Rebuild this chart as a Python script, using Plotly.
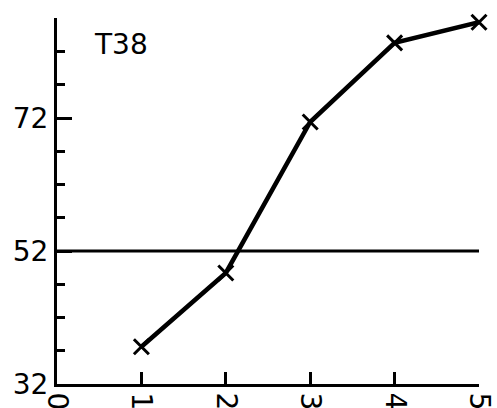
import plotly.graph_objects as go

# Series T38
x_vals = [1, 2, 3, 4, 5]
y_vals = [37.6, 48.7, 71.4, 83.3, 86.4]

# Reference level
ref_x = [0, 5]
ref_y = [52, 52]

y_tick_vals = [32, 52, 72]
y_tick_text = ["32", "52", "72"]
x_tick_vals = [0, 1, 2, 3, 4, 5]
x_tick_text = ["0", "1", "2", "3", "4", "5"]

FONT = "DejaVu Sans"

fig = go.Figure()

fig.add_trace(go.Scatter(
    x=ref_x, y=ref_y, mode="lines",
    line=dict(color="black", width=3),
    hoverinfo="skip", showlegend=False, cliponaxis=False,
))

fig.add_trace(go.Scatter(
    x=x_vals, y=y_vals, mode="lines+markers",
    line=dict(color="black", width=4.5),
    marker=dict(symbol="x-thin", size=15, line=dict(color="black", width=3)),
    showlegend=False, cliponaxis=False,
))

fig.add_annotation(
    x=0.76, y=83.0, xref="x", yref="y", text="T38", showarrow=False,
    font=dict(family=FONT, size=28, color="black"),
    xanchor="center", yanchor="middle",
)

fig.update_layout(
    width=497, height=408,
    margin=dict(l=57, r=17.5, t=18, b=24, pad=0),
    paper_bgcolor="white", plot_bgcolor="white",
    font=dict(family=FONT, size=28, color="black"),
    showlegend=False,
)

fig.update_xaxes(
    range=[0, 5], showgrid=False, zeroline=False,
    showline=True, linecolor="black", linewidth=3,
    tickmode="array", tickvals=x_tick_vals, ticktext=x_tick_text,
    ticks="inside", ticklen=12, tickwidth=3, tickcolor="black",
    tickangle=90, automargin=False,
    tickfont=dict(family=FONT, size=28, color="black"),
)

fig.update_yaxes(
    range=[32, 87.04], showgrid=False, zeroline=False,
    showline=True, linecolor="black", linewidth=3,
    tickmode="array", tickvals=y_tick_vals, ticktext=y_tick_text,
    ticks="inside", ticklen=15, tickwidth=3, tickcolor="black",
    minor=dict(tick0=32, dtick=5, ticks="inside", ticklen=8,
               tickwidth=3, tickcolor="black", showgrid=False),
    automargin=False,
    tickfont=dict(family=FONT, size=28, color="black"),
)

fig.write_html("out.html")
